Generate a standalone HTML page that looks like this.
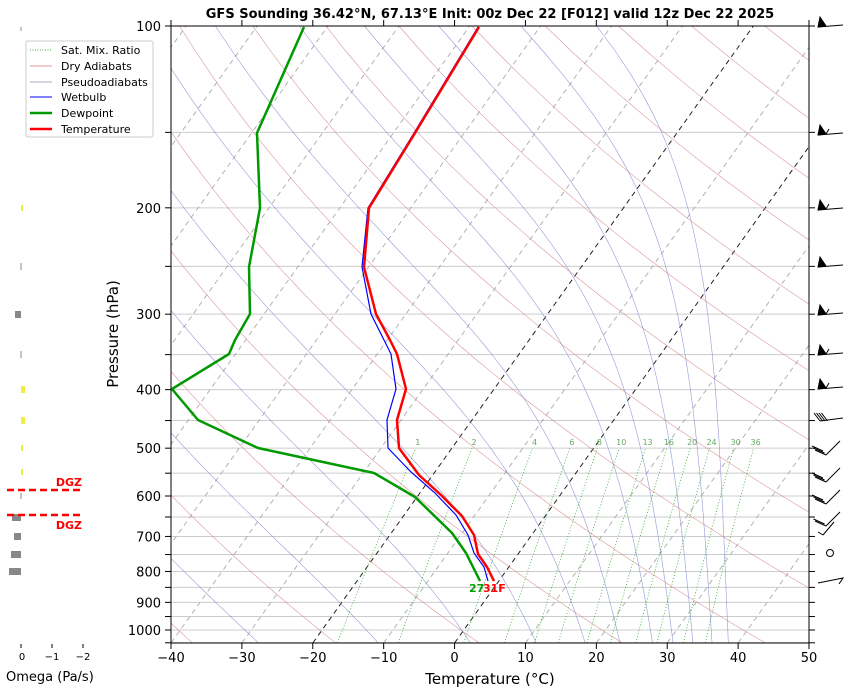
<!DOCTYPE html>
<html><head><meta charset="utf-8"><style>
html,body{margin:0;padding:0;background:#fff;width:848px;height:692px;overflow:hidden}
svg{display:block;font-family:"DejaVu Sans","Liberation Sans",sans-serif}
</style></head><body>
<svg id="s" width="848" height="692" viewBox="0 0 848 692" xmlns="http://www.w3.org/2000/svg">
<defs><clipPath id="c"><rect x="171" y="26" width="638" height="617"/></clipPath></defs>
<g id="grid" clip-path="url(#c)"></g>
<g id="data" clip-path="url(#c)"></g>
<rect x="171" y="26" width="638" height="617" fill="none" stroke="#000" stroke-width="1"/>
<g id="ticks"></g>
<text x="490" y="18" font-size="13" font-weight="bold" text-anchor="middle">GFS Sounding 36.42°N, 67.13°E Init: 00z Dec 22 [F012] valid 12z Dec 22 2025</text>
<text transform="translate(118,334) rotate(-90)" font-size="15" text-anchor="middle">Pressure (hPa)</text>
<text x="490" y="684" font-size="15" text-anchor="middle">Temperature (°C)</text>
<text x="469" y="592" font-size="11" font-weight="bold" fill="#00a000">27</text>
<text x="483" y="592" font-size="11" font-weight="bold" fill="#ff0000">31F</text>
<rect x="26" y="41" width="127" height="96" rx="2" fill="#fff" stroke="#ccc"/>
<g font-size="11">
<line x1="30" y1="50" x2="52" y2="50" stroke="#4a4" stroke-dasharray="1,1.5"/><text x="61" y="54">Sat. Mix. Ratio</text>
<line x1="30" y1="66" x2="52" y2="66" stroke="#d99" /><text x="61" y="70">Dry Adiabats</text>
<line x1="30" y1="82" x2="52" y2="82" stroke="#aab"/><text x="61" y="86">Pseudoadiabats</text>
<line x1="30" y1="97" x2="52" y2="97" stroke="#00f"/><text x="61" y="101">Wetbulb</text>
<line x1="30" y1="113" x2="52" y2="113" stroke="#090" stroke-width="2.5"/><text x="61" y="117">Dewpoint</text>
<line x1="30" y1="129" x2="52" y2="129" stroke="#f00" stroke-width="2.5"/><text x="61" y="133">Temperature</text>
</g>
<g>
<rect x="20.5" y="27" width="1" height="4" fill="#888"/>
<rect x="21" y="205" width="2" height="6" fill="#ee4"/>
<rect x="20.5" y="263" width="1" height="7" fill="#888"/>
<rect x="15" y="311" width="6" height="7" fill="#888"/>
<rect x="20.5" y="351" width="1" height="7" fill="#888"/>
<rect x="21" y="386" width="4" height="7" fill="#ee4"/>
<rect x="21" y="417" width="4" height="7" fill="#ee4"/>
<rect x="21" y="445" width="2" height="6" fill="#ee4"/>
<rect x="21" y="469" width="2" height="6" fill="#ee4"/>
<rect x="20.5" y="493" width="1" height="6" fill="#888"/>
<rect x="12" y="514" width="9" height="7" fill="#888"/>
<rect x="14" y="533" width="7" height="7" fill="#888"/>
<rect x="11" y="551" width="10" height="7" fill="#888"/>
<rect x="9" y="568" width="12" height="7" fill="#888"/>
<line x1="7" y1="490" x2="82" y2="490" stroke="#f00" stroke-width="2.5" stroke-dasharray="7,4"/>
<line x1="7" y1="515" x2="82" y2="515" stroke="#f00" stroke-width="2.5" stroke-dasharray="7,4"/>
<text x="82" y="486" font-size="11" font-weight="bold" fill="#f00" text-anchor="end">DGZ</text>
<text x="82" y="529" font-size="11" font-weight="bold" fill="#f00" text-anchor="end">DGZ</text>
<line x1="21" y1="644" x2="21" y2="648" stroke="#000"/>
<line x1="52" y1="644" x2="52" y2="648" stroke="#000"/>
<line x1="83" y1="644" x2="83" y2="648" stroke="#000"/>
<text x="22" y="660" font-size="10" text-anchor="middle">0</text>
<text x="52" y="660" font-size="10" text-anchor="middle">−1</text>
<text x="83" y="660" font-size="10" text-anchor="middle">−2</text>
<text x="6" y="681" font-size="13">Omega (Pa/s)</text>
</g>
<g id="barbs" stroke="#000" fill="#000" stroke-width="1"></g>
</svg>
<script>
var NS="http://www.w3.org/2000/svg";
function Y(p){return 26+604*Math.log10(p/100);}
function X(T,p){var y=Y(p);return 171+(T+40)*7.089+(643-y)*0.714;}
function el(par,tag,a){var e=document.createElementNS(NS,tag);for(var k in a)e.setAttribute(k,a[k]);document.getElementById(par).appendChild(e);return e;}
function pl(par,pts,a){a.points=pts.map(function(q){return q[0].toFixed(1)+","+q[1].toFixed(1)}).join(" ");a.fill="none";return el(par,"polyline",a);}
var g="grid";
for(var p=100;p<=1050;p+=50){var y=Y(p);el(g,"line",{x1:171,x2:809,y1:y,y2:y,stroke:"#ccc","stroke-width":1});}
for(var T=-120;T<=50;T+=10){var c=(T==0||T==-20);el(g,"line",{x1:X(T,1050),y1:Y(1050),x2:X(T,100),y2:Y(100),stroke:c?"#222":"#aaa","stroke-width":c?1:0.9,"stroke-dasharray":"5,4"});}
var ps=[];for(var p=1050;p>=100;p-=10)ps.push(p);
// dry adiabats: T at 1050 = -37 + 20.2k
for(var k=-2;k<=14;k++){var t1=-37+20.2*k+273.15;var pts=ps.map(function(p){return [X(t1*Math.pow(p/1050,0.2857)-273.15,p),Y(p)]});pl(g,pts,{stroke:"#d08080","stroke-width":0.6,"stroke-opacity":0.8});}
function es(T){return 6.112*Math.exp(17.67*T/(T+243.5));}
function rs(T,p){var e=es(T);return 0.622*e/(p-e);}
function dTdp(T,p){var Tk=T+273.15,r=rs(T,p),Rd=287.04,L=2.501e6,cp=1005.7;return (Rd*Tk+L*r)/(cp+L*L*r*0.622/(Rd*Tk*Tk))/p;}
[-45,-27.7,-10.8,2.2,11.5,18.4,23.3,27.9,30.8,33.6,36.3,38.6].forEach(function(t0){
 var T=t0,p=1050,pts=[[X(T,p),Y(p)]],dp=-2;
 while(p>100){var k1=dTdp(T,p),k2=dTdp(T+k1*dp/2,p+dp/2),k3=dTdp(T+k2*dp/2,p+dp/2),k4=dTdp(T+k3*dp,p+dp);T+=(k1+2*k2+2*k3+k4)*dp/6;p+=dp;if(p%10==0)pts.push([X(T,p),Y(p)]);}
 pl(g,pts,{stroke:"#8080d0","stroke-width":0.6,"stroke-opacity":0.8});
});
[1,2,4,6,8,10,13,16,20,24,30,36].forEach(function(w){var pts=[];for(var p=1050;p>=500;p-=10){var e=w/1000*p/(0.622+w/1000),l=Math.log(e/6.112);var T=243.5*l/(17.67-l);pts.push([X(T,p),Y(p)]);}
 pl(g,pts,{stroke:"#3a3","stroke-width":0.8,"stroke-dasharray":"1,2"});
 var q=pts[pts.length-1];var t=el(g,"text",{x:q[0]+2,y:Y(500)-3,"font-size":8,fill:"#6a6","text-anchor":"middle"});t.textContent=w;});
var Tp=[[479,27],[415,133],[369,208],[364,267],[376,314],[390,340],[397,354],[406,389],[397,420],[399,448],[419,475],[441,495],[462,516],[474,535],[478,554],[487,567],[494,581]];
var Wb=[[478,27],[414,133],[368,208],[362,267],[371,314],[384,340],[391,354],[396,389],[387,420],[388,448],[411,472],[435,493],[456,515],[468,535],[474,553],[484,567],[488,581]];
var Dp=[[304,27],[257,133],[260,208],[249,267],[250,314],[235,340],[229,354],[172,389],[198,420],[258,448],[374,473],[415,497],[452,533],[466,553],[480,581]];
pl("data",Wb,{stroke:"#00f","stroke-width":1.2});
pl("data",Dp,{stroke:"#090","stroke-width":2.5,"stroke-linejoin":"round"});
pl("data",Tp,{stroke:"#f00","stroke-width":2.5,"stroke-linejoin":"round"});
var tk="ticks";
for(var p=100;p<=1050;p+=50){var y=Y(p);el(tk,"line",{x1:165,x2:171,y1:y,y2:y,stroke:"#000"});el(tk,"line",{x1:809,x2:815,y1:y,y2:y,stroke:"#000"});
 if(p%100==0){var t=el(tk,"text",{x:161,y:y+5,"font-size":13,"text-anchor":"end"});t.textContent=p;}}
for(var T=-40;T<=50;T+=10){var x=171+(T+40)*7.089;el(tk,"line",{x1:x,x2:x,y1:643,y2:649,stroke:"#000"});el(tk,"line",{x1:x,x2:x,y1:20,y2:26,stroke:"#000"});
 var t=el(tk,"text",{x:x,y:662,"font-size":13,"text-anchor":"middle"});t.textContent=(T<0?"−"+(-T):T);}
var B=document.getElementById("barbs");
function bp(d,f){var e=document.createElementNS(NS,"path");e.setAttribute("d",d);e.setAttribute("fill",f?"#000":"none");B.appendChild(e);}
[[22,0],[130,1],[205,1],[262,0],[310,1],[350,1],[384,1]].forEach(function(a){var y=a[0];
 bp("M818 "+(y+5)+" L843 "+(y+3),0);bp("M818 "+(y+5)+" L820 "+(y-5)+" L826 "+(y+4)+"Z",1);
 if(a[1])bp("M826 "+(y+4)+" L829 "+(y-1),0);});
bp("M820 421 L843 418",0);for(var i=0;i<4;i++)bp("M"+(820+i*2.5)+" 421 L"+(814+i*2.5)+" 413",0);
[[448,3],[475,3],[497,3],[519,2]].forEach(function(a){var y=a[0];bp("M826 "+(y+7)+" L840 "+(y-7),0);for(var i=0;i<a[1];i++)bp("M"+(826-i*1.5)+" "+(y+7-i*2)+" L"+(815-i*1.5)+" "+(y+2-i*2),0);});
bp("M823 535 L834 522",0);bp("M823 535 L818 532",0);
var c=document.createElementNS(NS,"circle");c.setAttribute("cx",830);c.setAttribute("cy",553);c.setAttribute("r",3.5);c.setAttribute("fill","none");B.appendChild(c);
bp("M818 583 L843 578 L839 584",0);
</script>
</body></html>
